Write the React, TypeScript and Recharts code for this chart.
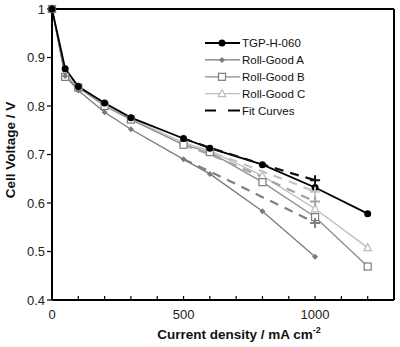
import { LineChart, Line, XAxis, YAxis, ReferenceLine, Legend, Label } from 'recharts';

// measured polarization data (current density mA/cm2 -> cell voltage V)
const currents = [0, 50, 100, 200, 300, 500, 600, 800, 1000, 1200];
const tgpVolts = [1.0, 0.877, 0.84, 0.806, 0.776, 0.733, 0.713, 0.679, 0.632, 0.578];
const rollAVolts = [1.0, 0.862, 0.832, 0.787, 0.752, 0.69, 0.66, 0.583, 0.489];
const rollBVolts = [1.0, 0.86, 0.838, 0.8, 0.772, 0.72, 0.705, 0.643, 0.571, 0.469];
const rollCVolts = [1.0, 0.866, 0.84, 0.802, 0.774, 0.724, 0.708, 0.656, 0.588, 0.508];

// fit curves (only the part that separates from the data)
const fitCurrents = [500, 600, 700, 800, 900, 1000];
const tgpFit = [0.733, 0.714, 0.697, 0.68, 0.663, 0.647];
const rollCFit = [0.724, 0.706, 0.686, 0.665, 0.645, 0.623];
const rollBFit = [0.72, 0.7, 0.677, 0.653, 0.628, 0.603];
const rollAFit = [0.69, 0.665, 0.639, 0.612, 0.586, 0.559];

const yTicks = [0.4, 0.5, 0.6, 0.7, 0.8, 0.9, 1.0];
const xTicks = [0, 100, 200, 300, 400, 500, 600, 700, 800, 900, 1000, 1100, 1200, 1300];
const xLabeled = [0, 500, 1000];

const toPoints = (xs: number[], ys: number[]) => ys.map((v, i) => ({ x: xs[i], v }));

const tgpData = toPoints(currents, tgpVolts);
const rollAData = toPoints(currents, rollAVolts);
const rollBData = toPoints(currents, rollBVolts);
const rollCData = toPoints(currents, rollCVolts);

const fits = [
  { name: 'fitTGP', data: toPoints(fitCurrents, tgpFit), color: '#111111' },
  { name: 'fitC', data: toPoints(fitCurrents, rollCFit), color: '#c4c4c4' },
  { name: 'fitB', data: toPoints(fitCurrents, rollBFit), color: '#a3a3a3' },
  { name: 'fitA', data: toPoints(fitCurrents, rollAFit), color: '#808080' },
];

const font = 'Arial, "Liberation Sans", sans-serif';

const Diamond = (props: any) => {
  const { cx, cy, index } = props;
  return <path key={index} d={`M${cx},${cy - 3} L${cx + 3},${cy} L${cx},${cy + 3} L${cx - 3},${cy} Z`} fill="#7a7a7a" />;
};

const Square = (props: any) => {
  const { cx, cy, index } = props;
  return <rect key={index} x={cx - 3.5} y={cy - 3.5} width={7} height={7} fill="#fff" stroke="#7d7d7d" strokeWidth={1.2} />;
};

const Triangle = (props: any) => {
  const { cx, cy, index } = props;
  return <path key={index} d={`M${cx},${cy - 4} L${cx + 3.8},${cy + 3} L${cx - 3.8},${cy + 3} Z`} fill="#fff" stroke="#bdbdbd" strokeWidth={1.2} />;
};

const plusEnd = (color: string, last: number) => (props: any) => {
  const { cx, cy, index } = props;
  if (index !== last) return <g key={index} />;
  return (
    <path key={index} d={`M${cx - 5},${cy} L${cx + 5},${cy} M${cx},${cy - 5} L${cx},${cy + 5}`} stroke={color} strokeWidth={2} />
  );
};

const legendRows = [
  { label: 'TGP-H-060', color: '#000', width: 2, mark: 'circle' },
  { label: 'Roll-Good A', color: '#7a7a7a', width: 1.3, mark: 'diamond' },
  { label: 'Roll-Good B', color: '#8c8c8c', width: 1.3, mark: 'square' },
  { label: 'Roll-Good C', color: '#bdbdbd', width: 1.3, mark: 'triangle' },
  { label: 'Fit Curves', color: '#000', width: 2, mark: 'dash' },
];

const LegendBox = () => (
  <svg width={130} height={90} style={{ display: 'block' }}>
    {legendRows.map((r, i) => {
      const y = 8 + i * 16.9;
      return (
        <g key={r.label}>
          {r.mark === 'dash' ? (
            <path d={`M5,${y} L16,${y} M28,${y} L40,${y}`} stroke={r.color} strokeWidth={r.width} />
          ) : (
            <line x1={5} x2={40} y1={y} y2={y} stroke={r.color} strokeWidth={r.width} />
          )}
          {r.mark === 'circle' && <circle cx={22} cy={y} r={3.5} fill="#000" />}
          {r.mark === 'diamond' && <path d={`M22,${y - 3} L25,${y} L22,${y + 3} L19,${y} Z`} fill="#7a7a7a" />}
          {r.mark === 'square' && <rect x={18.5} y={y - 3.5} width={7} height={7} fill="#fff" stroke="#7d7d7d" strokeWidth={1.2} />}
          {r.mark === 'triangle' && <path d={`M22,${y - 4} L25.8,${y + 3} L18.2,${y + 3} Z`} fill="#fff" stroke="#bdbdbd" strokeWidth={1.2} />}
          <text x={42} y={y + 4} fontSize={11.5} fontFamily={font} fill="#111">{r.label}</text>
        </g>
      );
    })}
  </svg>
);

export default function App() {
  return (
    <div style={{ position: 'absolute', left: 0, top: 0, width: 400, height: 347, background: '#fff' }}>
      <LineChart width={400} height={347} margin={{ top: 9, right: 6, bottom: 0, left: 0 }}>
        <XAxis
          type="number"
          dataKey="x"
          domain={[0, 1300]}
          ticks={xTicks}
          interval={0}
          tickFormatter={(v: number) => (xLabeled.includes(v) ? String(v) : '')}
          tickSize={-4}
          tickMargin={14}
          height={47}
          axisLine={{ stroke: '#000', strokeWidth: 2 }}
          tickLine={{ stroke: '#000', strokeWidth: 1.2 }}
          tick={{ fill: '#222', fontSize: 13, fontFamily: font }}
          allowDuplicatedCategory={false}
        >
          <Label
            content={() => (
              <text x={239} y={339} textAnchor="middle" fontSize={13.5} fontWeight="bold" fontFamily={font} fill="#111">
                Current density / mA cm<tspan dy={-6} fontSize={9}>-2</tspan>
              </text>
            )}
          />
        </XAxis>
        <YAxis
          type="number"
          domain={[0.4, 1]}
          ticks={yTicks}
          interval={0}
          width={52}
          tickFormatter={(v: number) => (v === 1 ? '1' : v.toFixed(1))}
          tickSize={5}
          tickMargin={2}
          axisLine={{ stroke: '#000', strokeWidth: 2 }}
          tickLine={{ stroke: '#000', strokeWidth: 1.2 }}
          tick={{ fill: '#222', fontSize: 13, fontFamily: font }}
        >
          <Label
            content={() => (
              <text x={15} y={150} transform="rotate(-90 15 150)" textAnchor="middle" fontSize={13.5} fontWeight="bold" fontFamily={font} fill="#111">
                Cell Voltage / V
              </text>
            )}
          />
        </YAxis>
        <ReferenceLine y={1} stroke="#000" strokeWidth={2} />
        <ReferenceLine x={1300} stroke="#000" strokeWidth={2} />
        <Legend
          layout="horizontal"
          verticalAlign="middle"
          align="center"
          wrapperStyle={{ position: 'absolute', left: 200, top: 35, width: 130, height: 90 }}
          content={() => <LegendBox />}
        />

        <Line data={rollCData} dataKey="v" stroke="#bdbdbd" strokeWidth={1.3} dot={Triangle} isAnimationActive={false} legendType="none" />
        <Line data={rollBData} dataKey="v" stroke="#8c8c8c" strokeWidth={1.3} dot={Square} isAnimationActive={false} legendType="none" />
        <Line data={rollAData} dataKey="v" stroke="#7a7a7a" strokeWidth={1.3} dot={Diamond} isAnimationActive={false} legendType="none" />
        <Line data={tgpData} dataKey="v" stroke="#000" strokeWidth={1.8} dot={{ r: 3.5, fill: '#000', stroke: '#000', strokeWidth: 0 }} isAnimationActive={false} legendType="none" />

        {fits.map((f) => (
          <Line
            key={f.name}
            data={f.data}
            dataKey="v"
            stroke={f.color}
            strokeWidth={2.2}
            strokeDasharray="9 7"
            dot={plusEnd(f.color, f.data.length - 1)}
            isAnimationActive={false}
            legendType="none"
          />
        ))}
      </LineChart>
    </div>
  );
}
